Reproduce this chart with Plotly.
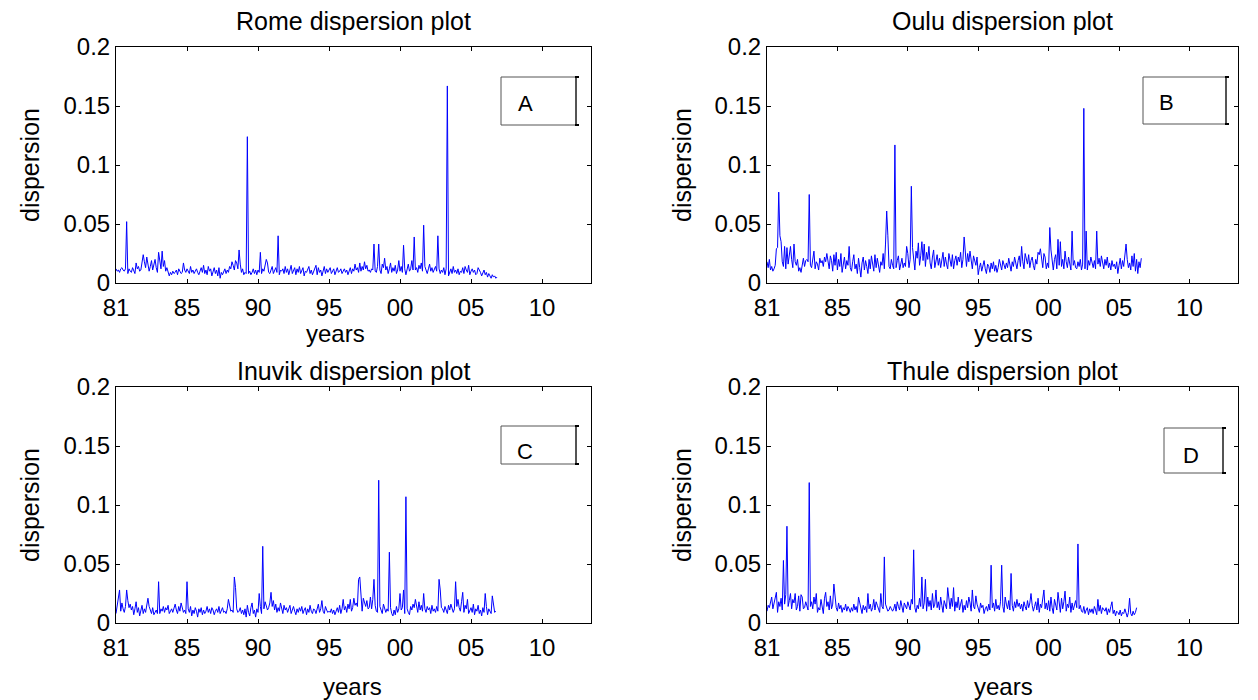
import plotly.graph_objects as go

# ---------------- data (dispersion in units of 0.001, one value per month from 1980) ----------------
start_year = 1980
rome_milli = [
    12,10,11,9,12,13,11,10,12,52,8,12,
    10,9,13,11,8,17,12,14,10,11,20,24,
    18,13,22,17,10,14,19,11,16,20,13,9,
    26,18,12,27,14,19,10,13,8,6,9,7,
    10,8,9,11,7,12,10,8,9,17,11,9,
    12,10,8,14,9,11,8,10,12,9,7,10,
    13,9,15,8,11,7,14,10,12,6,9,13,
    8,11,6,13,4,9,7,10,12,8,11,9,
    14,12,18,15,11,19,17,12,28,16,9,12,
    7,9,8,124,8,10,7,9,12,8,11,7,
    11,9,26,8,12,10,15,20,17,9,8,12,
    14,8,10,13,9,40,7,11,10,12,8,14,
    9,12,7,11,15,8,10,13,7,12,9,14,
    8,11,13,6,10,9,12,14,8,11,7,10,
    12,15,7,13,9,11,6,10,14,8,12,9,
    11,13,8,10,12,7,11,13,9,10,12,8,
    10,12,9,11,7,10,13,8,12,10,16,11,
    13,9,17,10,14,11,18,12,15,10,11,9,
    12,11,33,10,9,14,33,11,8,16,13,21,
    11,14,8,12,17,9,13,10,15,8,11,19,
    10,14,9,32,12,7,13,16,10,12,19,11,
    39,11,13,9,15,12,17,10,49,14,11,8,
    12,16,10,13,9,11,14,10,40,12,8,11,
    9,13,7,12,167,6,10,12,8,14,9,11,
    8,12,7,10,9,13,8,14,11,9,15,7,
    10,12,9,11,7,8,13,10,9,6,8,11,
    7,9,5,8,6,4,7,5,6,4,5,
]
oulu_milli = [
    18,13,20,11,14,10,12,15,29,30,77,40,
    35,18,14,31,12,30,16,24,31,20,13,33,
    18,15,20,10,13,9,17,21,14,19,20,18,
    75,15,13,20,27,12,18,16,11,21,17,19,
    14,22,18,25,16,12,23,19,10,24,15,26,
    11,20,14,25,9,17,22,12,19,15,31,13,
    10,18,24,12,16,8,21,13,5,17,22,11,
    19,14,8,20,12,23,16,10,24,13,21,14,
    9,18,15,25,12,33,61,40,14,12,20,15,
    12,117,13,19,23,11,16,21,13,17,14,31,
    25,13,20,82,30,18,11,27,21,34,15,23,
    35,19,33,14,26,20,31,17,12,22,28,13,
    18,24,15,21,13,19,26,14,22,16,12,25,
    17,14,24,12,19,23,15,22,18,26,13,20,
    39,21,14,25,18,27,16,12,23,19,15,22,
    7,13,17,10,15,19,12,8,16,14,9,17,
    12,18,10,15,9,13,20,16,11,19,14,12,
    17,13,21,15,10,18,14,22,16,12,19,23,
    14,31,18,12,25,21,16,24,13,19,22,15,
    11,20,16,26,24,29,18,13,25,22,12,17,
    13,47,28,16,11,20,24,12,37,15,35,14,
    20,12,27,18,13,22,16,11,44,15,19,13,
    12,18,14,20,11,16,148,12,44,11,19,15,
    22,17,13,19,12,44,16,21,14,23,18,12,
    20,15,22,13,17,11,19,14,16,12,18,8,
    15,21,12,19,14,24,33,20,13,17,11,23,
    14,25,10,20,8,18,13,21,
]
inuvik_milli = [
    8,15,22,28,10,17,12,9,14,28,19,13,
    16,11,14,7,12,18,9,13,6,11,15,8,
    12,9,16,21,14,10,8,13,7,9,11,8,
    35,8,12,10,14,9,13,11,15,8,10,12,
    9,13,16,11,8,14,10,17,12,9,11,8,
    35,12,9,14,6,11,8,13,10,5,12,9,
    13,7,11,8,10,14,9,12,8,13,11,7,
    10,12,9,14,8,11,13,9,10,8,12,20,
    14,10,11,9,39,30,12,9,10,13,8,11,
    7,12,5,15,9,6,13,17,8,11,5,12,
    9,25,14,8,65,12,18,15,11,13,17,26,
    14,19,11,16,9,13,10,17,12,8,15,11,
    13,9,12,15,8,11,14,10,7,12,9,13,
    10,14,8,11,13,7,12,9,15,10,8,12,
    11,8,13,16,9,12,19,10,8,14,11,9,
    10,9,12,8,11,7,10,13,9,15,8,12,
    20,11,14,9,16,12,20,10,13,21,15,17,
    14,37,39,22,10,21,16,14,19,12,13,22,
    12,20,37,15,10,9,121,14,11,8,16,13,
    9,12,10,60,13,8,6,11,7,14,9,12,
    25,11,13,28,8,107,12,9,7,14,11,16,
    13,20,12,9,18,11,15,10,25,12,9,14,
    11,13,8,15,10,12,9,14,10,37,28,13,
    12,9,14,10,8,15,11,16,13,9,12,35,
    14,20,13,10,18,26,9,15,12,20,8,11,
    13,9,16,7,12,10,15,8,11,6,13,9,
    25,14,7,12,10,8,23,16,9,10,
]
thule_milli = [
    10,15,13,19,22,12,17,20,26,9,18,14,
    21,11,53,16,24,82,14,19,25,12,20,17,
    25,11,14,23,10,24,22,12,13,18,15,11,
    119,14,18,12,22,16,25,9,13,11,20,15,
    8,21,26,14,18,11,23,12,16,33,19,13,
    10,17,12,15,9,13,11,16,10,14,12,9,
    13,10,16,11,14,9,22,17,12,8,15,11,
    14,9,25,12,16,10,13,20,11,18,15,12,
    9,25,14,12,56,16,13,10,11,14,12,10,
    12,16,10,18,14,11,19,13,9,17,15,12,
    18,14,11,20,16,62,13,9,15,12,21,14,
    39,12,17,37,10,22,14,19,11,25,13,16,
    28,13,18,11,22,15,9,19,14,12,30,17,
    12,21,14,30,10,18,13,22,11,16,20,9,
    15,11,19,13,22,17,10,28,14,12,23,16,
    11,9,17,13,15,8,12,14,10,16,11,49,
    13,17,10,20,12,15,11,18,49,14,9,22,
    16,12,19,11,42,15,10,18,13,20,14,17,
    12,16,10,18,14,11,19,13,17,25,15,10,
    14,18,11,21,9,16,13,19,28,12,17,11,
    19,10,22,13,8,20,15,11,26,14,9,21,
    12,18,27,10,16,13,22,9,17,11,14,19,
    13,67,12,15,10,9,14,8,11,13,7,12,
    9,12,8,14,11,7,20,10,15,8,13,11,
    10,13,7,12,9,14,18,8,11,6,10,9,
    7,11,6,9,8,12,7,5,9,21,8,6,
    10,7,9,13,
]

titles = ["Rome dispersion plot", "Oulu dispersion plot",
          "Inuvik dispersion plot", "Thule dispersion plot"]
box_letters = ["A", "B", "C", "D"]
x_tick_vals = [1980, 1985, 1990, 1995, 2000, 2005, 2010]
x_tick_text = ["81", "85", "90", "95", "00", "05", "10"]
y_tick_vals = [0, 0.05, 0.1, 0.15, 0.2]
y_tick_text = ["0", "0.05", "0.1", "0.15", "0.2"]

series = [rome_milli, oulu_milli, inuvik_milli, thule_milli]

# ---------------- layout helpers (page has an 8px body margin) ----------------
OFF = 8
W, H = 1250, 692
def px(x):
    return (x - OFF) / W
def py(y):
    return 1 - (y - OFF) / H

# panel pixel boxes in screen coordinates: (left, right, top, bottom)
panels = [(116, 591, 47, 283), (767, 1238, 47, 283),
          (116, 591, 387, 623), (767, 1238, 387, 623)]

FONT = "Liberation Sans, Arial, sans-serif"
fig = go.Figure()

for i, vals in enumerate(series):
    xs = [start_year + k / 12 for k in range(len(vals))]
    ys = [v / 1000 for v in vals]
    fig.add_trace(go.Scatter(x=xs, y=ys, mode="lines",
                             line=dict(color="#0000FF", width=1),
                             xaxis=f"x{i+1}", yaxis=f"y{i+1}",
                             showlegend=False, hoverinfo="skip"))

axis_common = dict(showline=True, linecolor="black", linewidth=1, mirror="ticks",
                   ticks="inside", ticklen=4, tickcolor="black", showgrid=False,
                   zeroline=False, automargin=False,
                   tickfont=dict(family=FONT, size=24, color="black"))

layout = dict(width=W, height=H,
              margin=dict(l=0, r=0, t=0, b=0, autoexpand=False),
              paper_bgcolor="white", plot_bgcolor="white", showlegend=False)

annotations = []
shapes = []
title_y = [21, 21, 371, 371]
years_pos = [(335, 333), (1003, 333), (352, 686), (1003, 686)]
ylab_x = [30, 682, 30, 682]
boxes = [(501, 576, 77, 125, 525, 104), (1143, 1226, 77, 124, 1166, 103),
         (501, 576, 426, 464, 525, 452), (1164, 1223, 428, 473, 1191, 455)]

for i, (l, r, t, b) in enumerate(panels):
    n = i + 1
    layout[f"xaxis{n}"] = dict(domain=[px(l), px(r)], anchor=f"y{n}",
                               range=[1980, 2013.45], tickvals=x_tick_vals,
                               ticktext=x_tick_text, ticklabelstandoff=3,
                               **axis_common)
    layout[f"yaxis{n}"] = dict(domain=[py(b), py(t)], anchor=f"x{n}",
                               range=[0, 0.2], tickvals=y_tick_vals,
                               ticktext=y_tick_text, **axis_common)
    annotations.append(dict(text=titles[i], x=px((l + r) / 2), y=py(title_y[i]),
                            xref="paper", yref="paper", showarrow=False,
                            xanchor="center", yanchor="middle",
                            font=dict(family=FONT, size=25, color="black")))
    annotations.append(dict(text="years", x=px(years_pos[i][0]), y=py(years_pos[i][1]),
                            xref="paper", yref="paper", showarrow=False,
                            xanchor="center", yanchor="middle",
                            font=dict(family=FONT, size=24, color="black")))
    annotations.append(dict(text="dispersion", x=px(ylab_x[i]), y=py((t + b) / 2),
                            xref="paper", yref="paper", showarrow=False, textangle=-90,
                            xanchor="center", yanchor="middle",
                            font=dict(family=FONT, size=25, color="black")))
    bl, br, bt, bb, lx, ly = boxes[i]
    shapes.append(dict(type="rect", xref="paper", yref="paper",
                       x0=px(bl), x1=px(br), y0=py(bb), y1=py(bt),
                       line=dict(color="#555555", width=1), fillcolor="white"))
    shapes.append(dict(type="line", xref="paper", yref="paper",
                       x0=px(br), x1=px(br), y0=py(bb), y1=py(bt),
                       line=dict(color="black", width=1)))
    for yy in (bt, bb):
        shapes.append(dict(type="line", xref="paper", yref="paper",
                           x0=px(br - 1), x1=px(br + 3), y0=py(yy), y1=py(yy),
                           line=dict(color="black", width=2)))
    annotations.append(dict(text=box_letters[i], x=px(lx), y=py(ly),
                            xref="paper", yref="paper", showarrow=False,
                            xanchor="center", yanchor="middle",
                            font=dict(family=FONT, size=22, color="black")))

layout["annotations"] = annotations
layout["shapes"] = shapes
fig.update_layout(**layout)
fig.write_html("out.html")
